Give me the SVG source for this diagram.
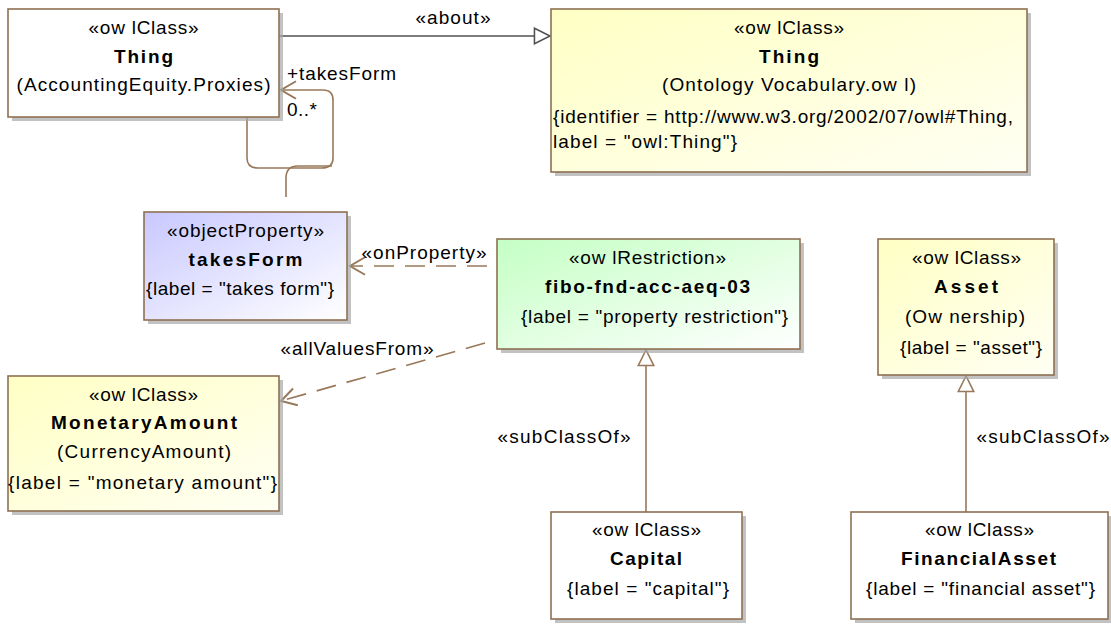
<svg xmlns="http://www.w3.org/2000/svg" width="1111" height="624" viewBox="0 0 1111 624">
<style>
.t{font-family:"Liberation Sans",Arial,sans-serif;font-size:19px;fill:#000;text-anchor:middle}
.s{text-anchor:start}
.b{font-weight:bold}
.box{stroke:#8e7152;stroke-width:1.6}
.sh{fill:#a8a8a8;opacity:0.7}
.c{fill:none;stroke:#98785a;stroke-width:1.6}
.d{fill:none;stroke:#98785a;stroke-width:1.6;stroke-dasharray:20 11}
</style>
<defs>
<linearGradient id="gy" x1="0" y1="0" x2="1" y2="1"><stop offset="0" stop-color="#ffffc4"/><stop offset="1" stop-color="#fffff4"/></linearGradient>
<linearGradient id="gp" x1="0" y1="0" x2="1" y2="1"><stop offset="0" stop-color="#c8c8ff"/><stop offset="1" stop-color="#ffffff"/></linearGradient>
<linearGradient id="gg" x1="0" y1="0" x2="1" y2="1"><stop offset="0" stop-color="#c4ffc4"/><stop offset="1" stop-color="#ffffff"/></linearGradient>
<marker id="open" markerUnits="userSpaceOnUse" markerWidth="20" markerHeight="20" viewBox="-14 -8 16 16" refX="0" refY="0" orient="auto">
<path d="M-12,-7 L0,0 L-12,7" fill="none" stroke="#98785a" stroke-width="1.6"/>
</marker>
<marker id="tri" markerUnits="userSpaceOnUse" markerWidth="20" markerHeight="20" viewBox="-16 -8 18 16" refX="0" refY="0" orient="auto">
<path d="M-14,-7 L0,0 L-14,7 Z" fill="#fff" stroke="#98785a" stroke-width="1.4"/>
</marker>
<marker id="trig" markerUnits="userSpaceOnUse" markerWidth="20" markerHeight="20" viewBox="-16 -8 18 16" refX="0" refY="0" orient="auto">
<path d="M-14,-7 L0,0 L-14,7 Z" fill="#fff" stroke="#505050" stroke-width="1.4"/>
</marker>
</defs>
<rect width="1111" height="624" fill="#fff"/>

<g id="connectors">
<path d="M279,36 H550" fill="none" stroke="#505050" stroke-width="1.5" marker-end="url(#trig)"/>
<text class="t" x="453" y="24" textLength="75" lengthAdjust="spacing">«about»</text>
<path class="c" d="M247,117 V158 Q247,168 258,168 H322 Q333,168 333,158 V100 Q333,90 323,90 H281" marker-end="url(#open)"/>
<path class="c" d="M286,197 V178 Q286,166 298,166 H332"/>
<text class="t s" x="287" y="80" textLength="109" lengthAdjust="spacing">+takesForm</text>
<text class="t s" x="287" y="116" textLength="30" lengthAdjust="spacing">0..*</text>
<path class="d" d="M487,266 H350" marker-end="url(#open)"/>
<text class="t" x="424" y="259" textLength="125" lengthAdjust="spacing">«onProperty»</text>
<path class="d" d="M485,343 L281,401" marker-end="url(#open)"/>
<text class="t" x="357" y="355" textLength="153" lengthAdjust="spacing">«allValuesFrom»</text>
<path class="c" d="M646,512 V350" marker-end="url(#tri)"/>
<text class="t" x="564" y="443" textLength="133" lengthAdjust="spacing">«subClassOf»</text>
<path class="c" d="M966,512 V376" marker-end="url(#tri)"/>
<text class="t" x="1043" y="443" textLength="133" lengthAdjust="spacing">«subClassOf»</text>
</g>

<g id="thing-proxies">
<rect class="sh" x="12" y="13" width="271" height="108"/>
<rect class="box" x="8" y="9" width="271" height="108" fill="#fff"/>
<text class="t" x="143.5" y="34" textLength="110" lengthAdjust="spacing">«ow lClass»</text>
<text class="t b" x="143.5" y="63" textLength="59" lengthAdjust="spacing">Thing</text>
<text class="t" x="143.5" y="91" textLength="254" lengthAdjust="spacing">(AccountingEquity.Proxies)</text>
</g>

<g id="thing-owl">
<rect class="sh" x="555" y="13" width="476" height="163"/>
<rect class="box" x="551" y="9" width="476" height="163" fill="url(#gy)"/>
<text class="t" x="789" y="34" textLength="110" lengthAdjust="spacing">«ow lClass»</text>
<text class="t b" x="789" y="63" textLength="60" lengthAdjust="spacing">Thing</text>
<text class="t" x="789" y="91" textLength="254" lengthAdjust="spacing">(Ontology Vocabulary.ow l)</text>
<text class="t s" x="553" y="123" textLength="460" lengthAdjust="spacing">{identifier = http://www.w3.org/2002/07/owl#Thing,</text>
<text class="t s" x="553" y="148" textLength="184" lengthAdjust="spacing">label = "owl:Thing"}</text>
</g>

<g id="takesForm">
<rect class="sh" x="148" y="216" width="203" height="108"/>
<rect class="box" x="144" y="212" width="203" height="108" fill="url(#gp)"/>
<text class="t" x="245.5" y="237" textLength="157" lengthAdjust="spacing">«objectProperty»</text>
<text class="t b" x="245.5" y="266" textLength="114" lengthAdjust="spacing">takesForm</text>
<text class="t" x="240" y="295" textLength="188" lengthAdjust="spacing">{label = "takes form"}</text>
</g>

<g id="restriction">
<rect class="sh" x="501" y="243" width="303" height="110"/>
<rect class="box" x="497" y="239" width="303" height="110" fill="url(#gg)"/>
<text class="t" x="647.5" y="264" textLength="157" lengthAdjust="spacing">«ow lRestriction»</text>
<text class="t b" x="647.5" y="293" textLength="205" lengthAdjust="spacing">fibo-fnd-acc-aeq-03</text>
<text class="t" x="654.5" y="323" textLength="267" lengthAdjust="spacing">{label = "property restriction"}</text>
</g>

<g id="monetaryAmount">
<rect class="sh" x="12" y="380" width="271" height="135"/>
<rect class="box" x="8" y="376" width="271" height="135" fill="url(#gy)"/>
<text class="t" x="143.5" y="401" textLength="109" lengthAdjust="spacing">«ow lClass»</text>
<text class="t b" x="144" y="429" textLength="186" lengthAdjust="spacing">MonetaryAmount</text>
<text class="t" x="144" y="458" textLength="174" lengthAdjust="spacing">(CurrencyAmount)</text>
<text class="t" x="142.5" y="489" textLength="269" lengthAdjust="spacing">{label = "monetary amount"}</text>
</g>

<g id="asset">
<rect class="sh" x="882" y="243" width="176" height="136"/>
<rect class="box" x="878" y="239" width="176" height="136" fill="url(#gy)"/>
<text class="t" x="966.5" y="264" textLength="109" lengthAdjust="spacing">«ow lClass»</text>
<text class="t b" x="966" y="293" textLength="64" lengthAdjust="spacing">Asset</text>
<text class="t" x="965" y="323" textLength="120" lengthAdjust="spacing">(Ow nership)</text>
<text class="t" x="971" y="354" textLength="142" lengthAdjust="spacing">{label = "asset"}</text>
</g>

<g id="capital">
<rect class="sh" x="555" y="516" width="191" height="107"/>
<rect class="box" x="551" y="512" width="191" height="107" fill="#fff"/>
<text class="t" x="646.5" y="536" textLength="109" lengthAdjust="spacing">«ow lClass»</text>
<text class="t b" x="646" y="565" textLength="72" lengthAdjust="spacing">Capital</text>
<text class="t" x="648" y="595" textLength="162" lengthAdjust="spacing">{label = "capital"}</text>
</g>

<g id="financialAsset">
<rect class="sh" x="855" y="516" width="257" height="107"/>
<rect class="box" x="851" y="512" width="257" height="107" fill="#fff"/>
<text class="t" x="979.5" y="536" textLength="109" lengthAdjust="spacing">«ow lClass»</text>
<text class="t b" x="978.5" y="565" textLength="155" lengthAdjust="spacing">FinancialAsset</text>
<text class="t" x="980.5" y="595" textLength="229" lengthAdjust="spacing">{label = "financial asset"}</text>
</g>
</svg>
